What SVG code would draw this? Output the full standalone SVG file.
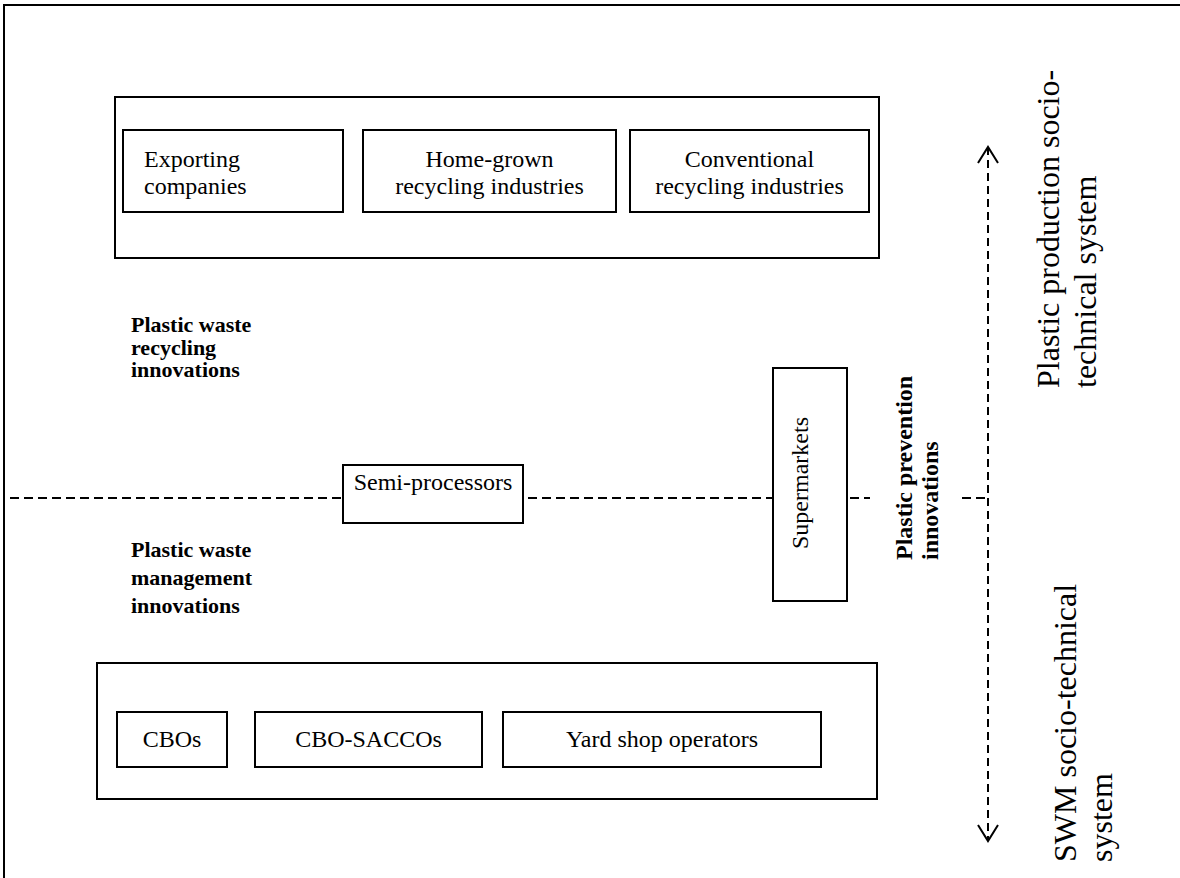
<svg xmlns="http://www.w3.org/2000/svg" width="1180" height="878" viewBox="0 0 1180 878">
  <defs>
    <style>
      .box { fill: #ffffff; stroke: #000000; stroke-width: 2; }
      .t { font-family: "Liberation Serif", "Times New Roman", serif; font-size: 24px; fill: #000000; }
      .b { font-family: "Liberation Serif", "Times New Roman", serif; font-size: 22px; font-weight: bold; fill: #000000; }
      .bv { font-family: "Liberation Serif", "Times New Roman", serif; font-size: 24px; font-weight: bold; fill: #000000; }
      .big { font-family: "Liberation Serif", "Times New Roman", serif; font-size: 32px; fill: #000000; }
      .dash { fill: none; stroke: #000000; stroke-width: 2; stroke-dasharray: 9 5; }
      .vdash { fill: none; stroke: #000000; stroke-width: 2; stroke-dasharray: 8 5; }
    </style>
    <marker id="openArrow" viewBox="0 0 20 22" refX="18" refY="11" markerWidth="20" markerHeight="22" markerUnits="userSpaceOnUse" orient="auto-start-reverse">
      <path d="M2,1 L18,11 L2,21" fill="none" stroke="#000000" stroke-width="2"/>
    </marker>
  </defs>

  <rect width="1180" height="878" fill="#ffffff"/>

  <!-- page frame (top and left edges) -->
  <path d="M4,878 V5 H1180" fill="none" stroke="#000000" stroke-width="2"/>

  <!-- connectors: regime boundary and the socio-technical axis -->
  <g id="connectors">
    <line class="dash" x1="10" y1="498" x2="343" y2="498"/>
    <line class="dash" x1="528" y1="498" x2="773" y2="498"/>
    <line class="dash" x1="850" y1="498" x2="870" y2="498"/>
    <line class="dash" x1="962" y1="498" x2="986" y2="498"/>
    <line class="vdash" x1="988" y1="147" x2="988" y2="841" marker-start="url(#openArrow)" marker-end="url(#openArrow)"/>
  </g>

  <!-- recycling industries cluster -->
  <g id="recycling-cluster">
    <rect class="box" x="115" y="97" width="764" height="161"/>
  </g>
  <g id="exporting-companies">
    <rect class="box" x="123" y="130" width="220" height="82"/>
    <text class="t" x="144" y="167">Exporting</text>
    <text class="t" x="144" y="194">companies</text>
  </g>
  <g id="home-grown-recycling">
    <rect class="box" x="363" y="130" width="253" height="82"/>
    <text class="t" x="489.5" y="167" text-anchor="middle">Home-grown</text>
    <text class="t" x="489.5" y="194" text-anchor="middle">recycling industries</text>
  </g>
  <g id="conventional-recycling">
    <rect class="box" x="630" y="130" width="239" height="82"/>
    <text class="t" x="749.5" y="167" text-anchor="middle">Conventional</text>
    <text class="t" x="749.5" y="194" text-anchor="middle">recycling industries</text>
  </g>

  <!-- innovation labels -->
  <g id="label-recycling-innovations">
    <text class="b" x="131" y="332">Plastic waste</text>
    <text class="b" x="131" y="354.5">recycling</text>
    <text class="b" x="131" y="377">innovations</text>
  </g>
  <g id="label-management-innovations">
    <text class="b" x="131" y="557">Plastic waste</text>
    <text class="b" x="131" y="585">management</text>
    <text class="b" x="131" y="613">innovations</text>
  </g>
  <g id="label-prevention-innovations">
    <text class="bv" transform="translate(912,560) rotate(-90)">Plastic prevention</text>
    <text class="bv" transform="translate(938,560) rotate(-90)">innovations</text>
  </g>

  <!-- intermediaries -->
  <g id="semi-processors">
    <rect class="box" x="343" y="465" width="180" height="58"/>
    <text class="t" x="433" y="490" text-anchor="middle">Semi-processors</text>
  </g>
  <g id="supermarkets">
    <rect class="box" x="773" y="368" width="74" height="233"/>
    <text class="t" transform="translate(808,483) rotate(-90)" text-anchor="middle">Supermarkets</text>
  </g>

  <!-- waste management cluster -->
  <g id="swm-cluster">
    <rect class="box" x="97" y="663" width="780" height="136"/>
  </g>
  <g id="cbos">
    <rect class="box" x="117" y="712" width="110" height="55"/>
    <text class="t" x="172" y="747" text-anchor="middle">CBOs</text>
  </g>
  <g id="cbo-saccos">
    <rect class="box" x="255" y="712" width="227" height="55"/>
    <text class="t" x="368.5" y="747" text-anchor="middle">CBO-SACCOs</text>
  </g>
  <g id="yard-shop-operators">
    <rect class="box" x="503" y="712" width="318" height="55"/>
    <text class="t" x="662" y="747" text-anchor="middle">Yard shop operators</text>
  </g>

  <!-- socio-technical system labels -->
  <g id="label-plastic-production">
    <text class="big" transform="translate(1059,388) rotate(-90)">Plastic production socio-</text>
    <text class="big" transform="translate(1096,388) rotate(-90)">technical system</text>
  </g>
  <g id="label-swm">
    <text class="big" transform="translate(1076,862) rotate(-90)">SWM socio-technical</text>
    <text class="big" transform="translate(1112,862) rotate(-90)">system</text>
  </g>
</svg>
